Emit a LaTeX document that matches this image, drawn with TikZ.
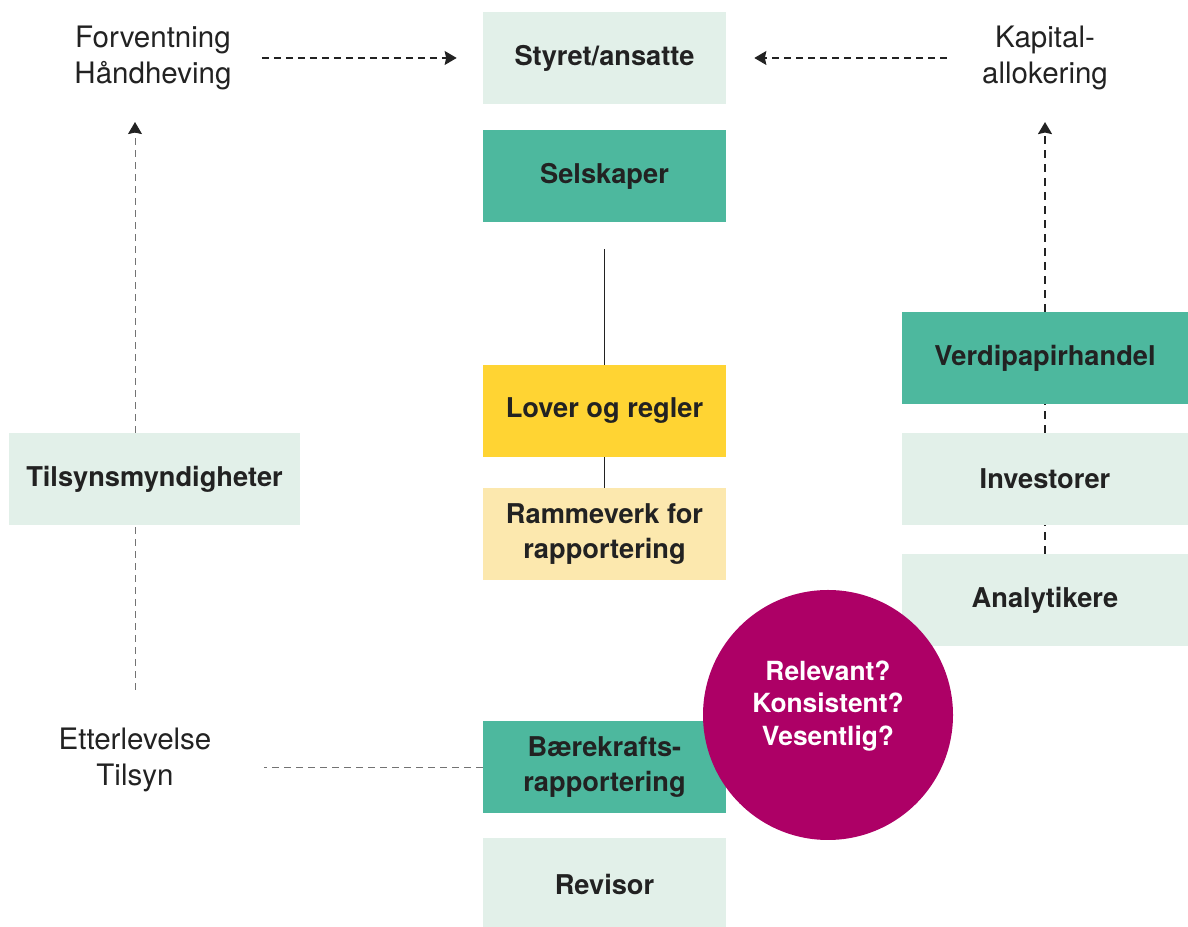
\documentclass[tikz,border=0pt]{standalone}
\usepackage{fontspec}
\setmainfont{TeX Gyre Heros}
\usetikzlibrary{arrows.meta,positioning}
\definecolor{mint}{HTML}{E2F0E9}
\definecolor{groenn}{HTML}{4DB89E}
\definecolor{gul}{HTML}{FFD433}
\definecolor{lysgul}{HTML}{FCE8AE}
\definecolor{magenta}{HTML}{AD0066}
\definecolor{ink}{HTML}{222222}

\begin{document}
\begin{tikzpicture}[>={Stealth[length=2.4mm,width=2.8mm,inset=0.3mm,color=ink]}]
	\tikzstyle{box} = [rectangle, minimum width=4.86cm, minimum height=1.84cm, inner sep=0, align=center, text=ink, font=\fontsize{15.5}{19.9}\selectfont\bfseries]
	\tikzstyle{lightbox} = [box, fill=mint]
	\tikzstyle{greenbox} = [box, fill=groenn]
	\tikzstyle{side} = [inner sep=0, align=center, text=ink, font=\fontsize{16.8}{20.2}\selectfont]
	\tikzstyle{link} = [ink, line width=0.6pt, dash pattern=on 1.4mm off 1mm]
	\tikzstyle{faint} = [black!55, line width=0.5pt, dash pattern=on 1.4mm off 1mm]
	\tikzstyle{thick link} = [ink, line width=1.1pt, dash pattern=on 1.6mm off 1.2mm]
	\tikzstyle{krets} = [circle, fill=magenta, minimum size=5cm, inner sep=0]
	\useasboundingbox (0,0) rectangle (23.76,18.54);

	% midtre kolonne
	\node [lightbox] (styret) at (12.09,17.38) {Styret/ansatte};
	\node [greenbox] (selskap) at (12.09,15.02) {Selskaper};
	\node [box, fill=gul] (lover) at (12.09,10.32) {Lover og regler};
	\node [box, fill=lysgul] (ramme) at (12.09,7.86) {Rammeverk for\\rapportering};
	\node [greenbox] (baere) at (12.09,3.20) {Bærekrafts-\\rapportering};
	\node [lightbox] (revisor) at (12.09,0.86) {Revisor};

	\draw [ink, line width=0.8pt] (selskap) edge[shorten <=0.54cm] (lover);
	\draw [ink, line width=0.8pt] (lover) edge (ramme);

	% venstre side
	\node [lightbox, minimum width=5.82cm] (tilsyn) at (3.09,8.96) {Tilsynsmyndigheter};
	\node [side] (forv) at (3.06,17.38) {Forventning\\Håndheving};
	\node [side] (etter) at (2.70,3.34) {Etterlevelse\\Tilsyn};

	\draw [faint] (etter.north) edge[shorten <=0.76cm] (etter.north |- tilsyn.south);
	\draw [faint] (etter.north |- tilsyn.north) edge[->, shorten >=0.64cm] (etter.north |- forv.south);
	\draw [faint] (baere.west) edge[shorten >=1.04cm] (etter.east |- baere.west);
	\draw [link] (forv.east) edge[->, shorten <=0.6cm, shorten >=0.52cm] (styret.west);

	% hoyre side
	\node [greenbox, minimum width=5.72cm] (verdi) at (20.9,11.38) {Verdipapirhandel};
	\node [lightbox, minimum width=5.72cm] (invest) at (20.9,8.96) {Investorer};
	\node [lightbox, minimum width=5.72cm] (analyt) at (20.9,6.54) {Analytikere};
	\node [side] (kapital) at (20.9,17.38) {Kapital-\\allokering};

	\draw [thick link] (analyt) edge (invest);
	\draw [thick link] (invest) edge (verdi);
	\draw [thick link] (verdi) edge[->, shorten >=0.64cm] (kapital);
	\draw [link] (kapital.west) edge[->, shorten <=0.7cm, shorten >=0.56cm] (styret.east);

	\node [krets] (sirkel) at (16.56,4.24) {};
	\node [align=center, text=white, font=\fontsize{15}{18.5}\selectfont\bfseries] (spm) at ([yshift=1.8mm]sirkel.center) {Relevant?\\Konsistent?\\Vesentlig?};
\end{tikzpicture}
\end{document}
